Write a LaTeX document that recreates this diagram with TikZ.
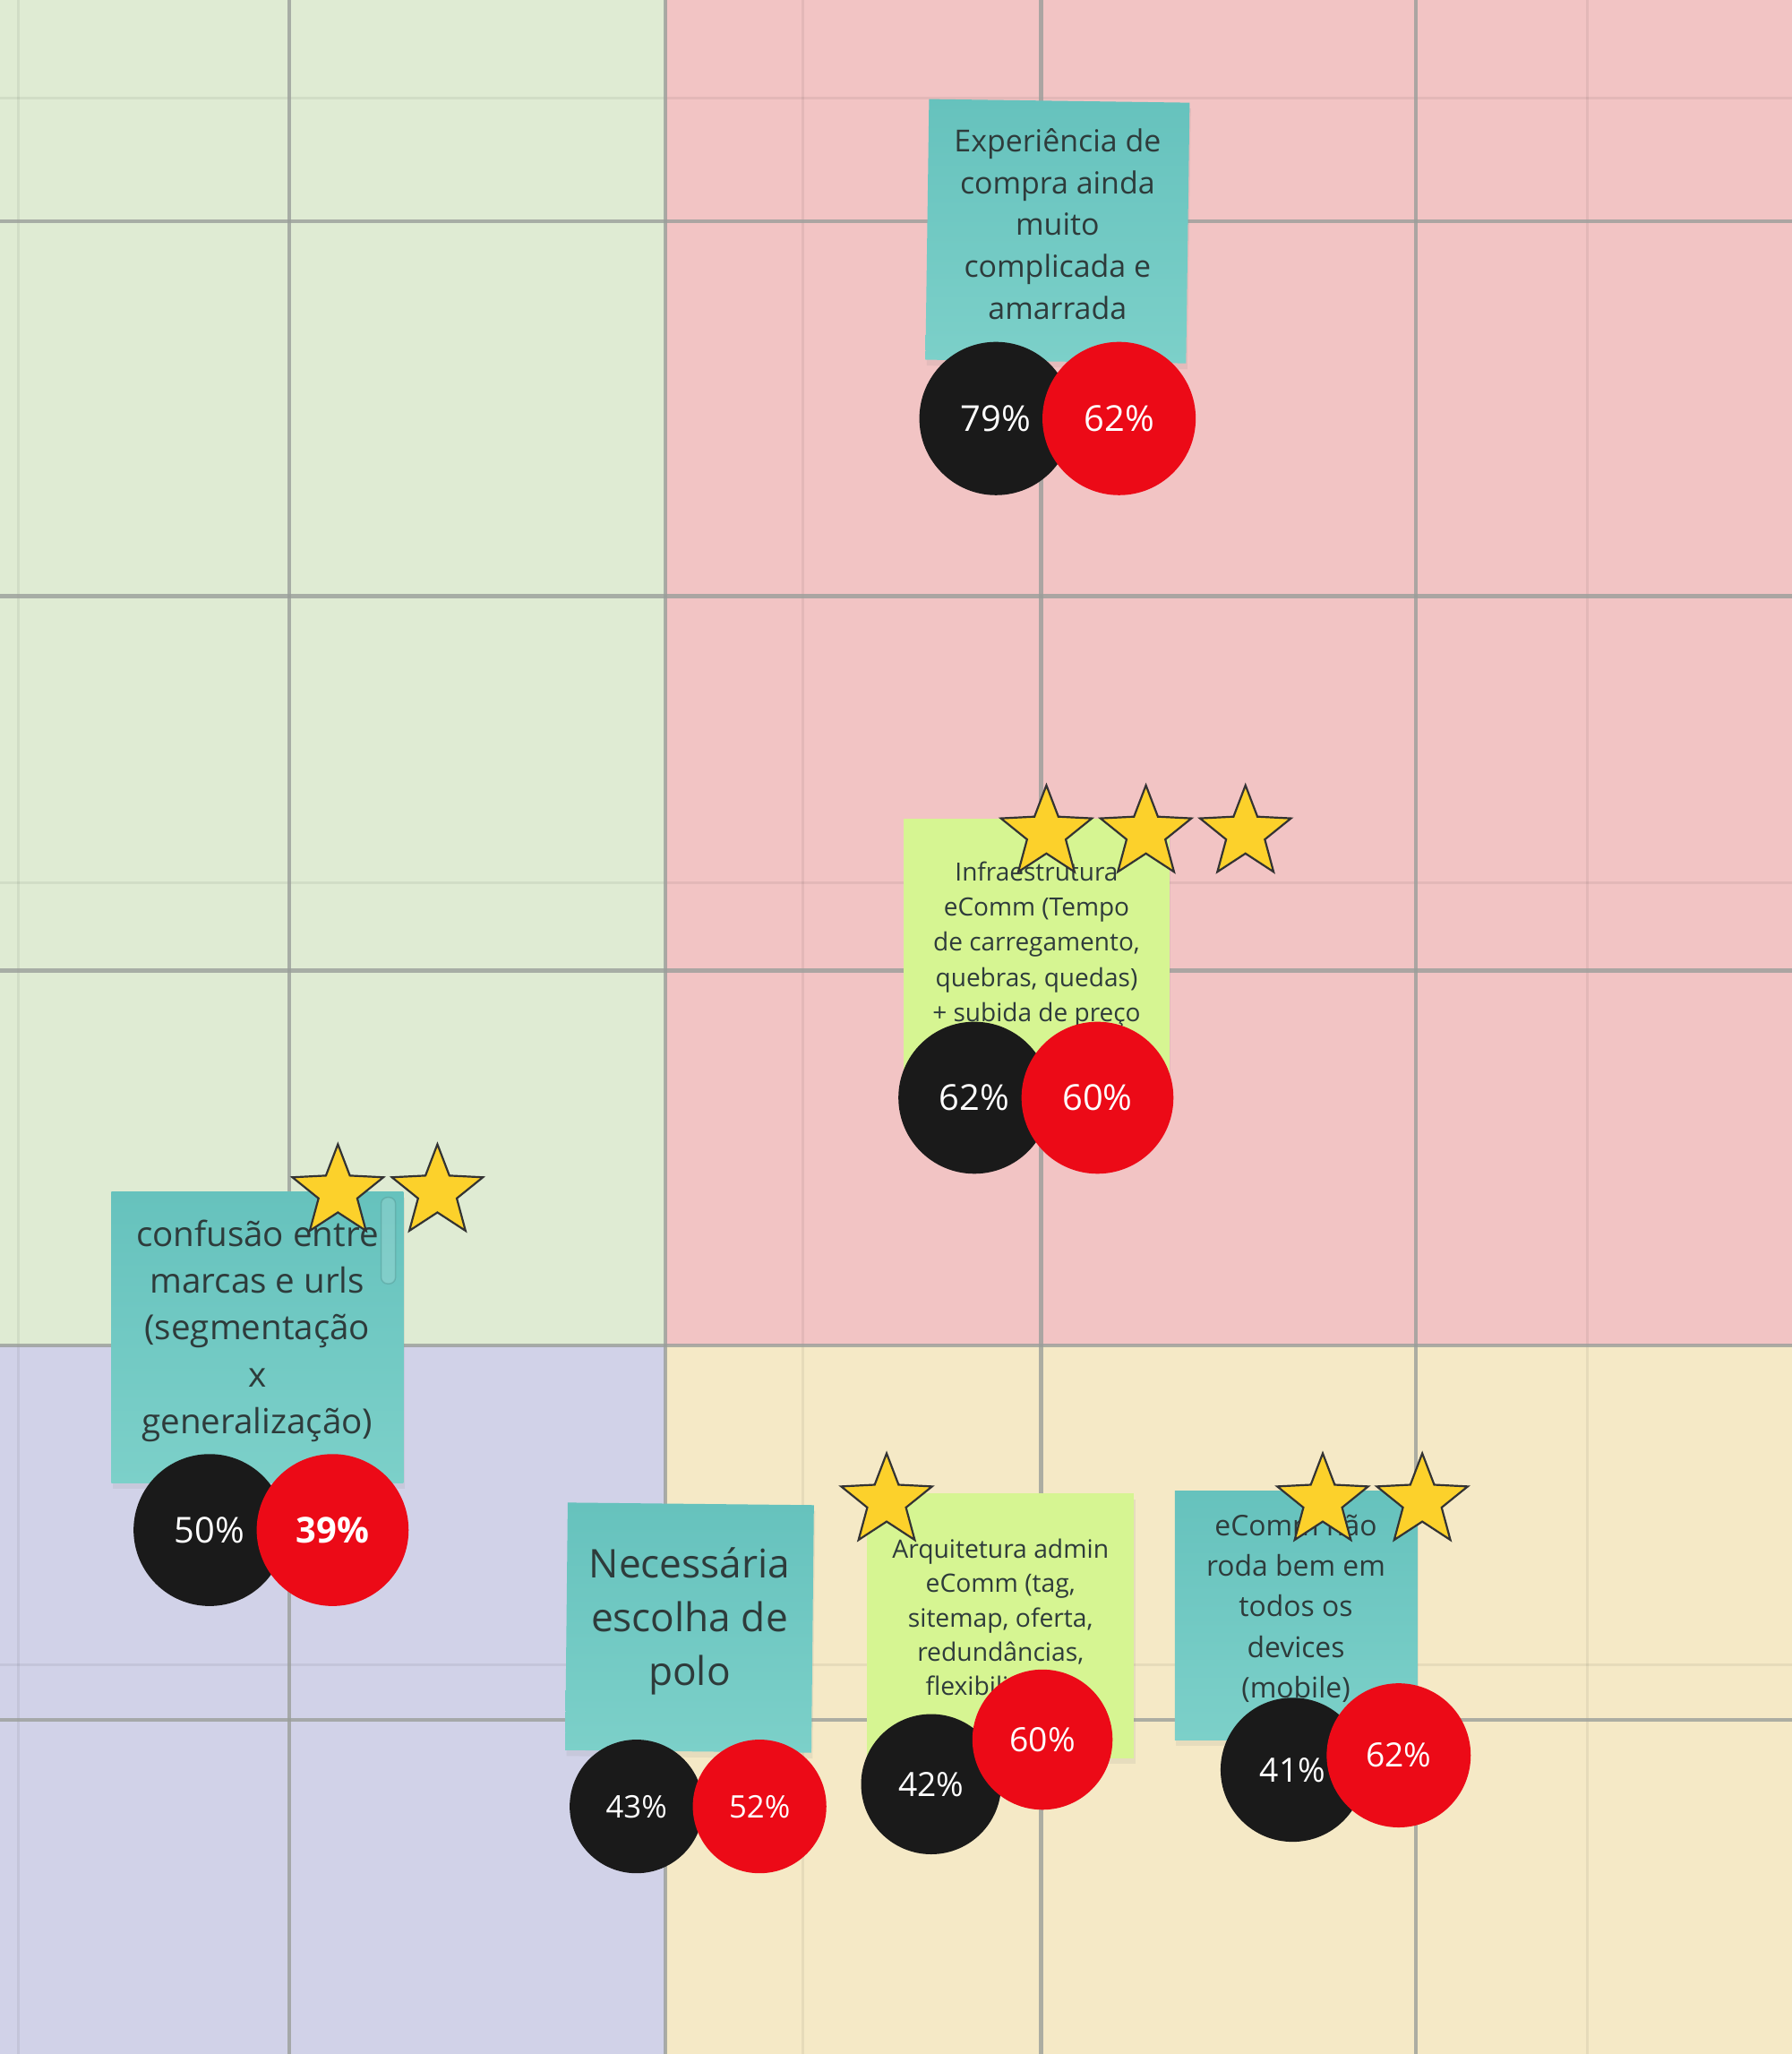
\documentclass[tikz,border=0pt]{standalone}
\usepackage{fontspec}
\setmainfont{Open Sans}
\usepackage{xcolor}
\usetikzlibrary{shapes,positioning,shadows}

\definecolor{quadverde}{HTML}{DFEBD3}
\definecolor{quadrosa}{HTML}{F2C4C4}
\definecolor{quadlilas}{HTML}{D1D2E8}
\definecolor{quadcreme}{HTML}{F5E9C6}
\definecolor{gradecor}{HTML}{9A9E9A}
\definecolor{tealtopo}{HTML}{66C2BD}
\definecolor{tealbase}{HTML}{7CD0C9}
\definecolor{verdepost}{HTML}{D6F592}
\definecolor{textopost}{HTML}{2E3B3B}
\definecolor{estrelacor}{HTML}{FCD12B}
\definecolor{pretovoto}{HTML}{1A1A1A}
\definecolor{vermelhovoto}{HTML}{EC0A17}

\tikzset{
    grade/.style={gradecor, opacity=0.8, line width=0.6mm},
    gradefina/.style={black, opacity=0.06, line width=0.4mm},
    postit/.style={rectangle, inner sep=0pt,
        drop shadow={shadow xshift=0.2mm, shadow yshift=-0.9mm, opacity=0.12}},
    azul/.style={postit, top color=tealtopo, bottom color=tealbase},
    verde/.style={postit, fill=verdepost},
    texto/.style={inner sep=0pt, align=center, text=textopost},
    estrela/.style={star, star points=5, star point ratio=2.35, inner sep=0pt,
        minimum size=14.6mm, fill=estrelacor, draw=black!80, line width=0.3mm},
    bola/.style={circle, inner sep=0pt, text=white},
    preta/.style={bola, fill=pretovoto},
    vermelha/.style={bola, fill=vermelhovoto}
}

\begin{document}
\begin{tikzpicture}[x=0.2mm,y=-0.2mm]
    \useasboundingbox (0,0) rectangle (1368,1568);

    % quadrantes
    \fill[quadverde] (0,0) rectangle (508,1027);
    \fill[quadrosa] (508,0) rectangle (1368,1027);
    \fill[quadlilas] (0,1027) rectangle (508,1568);
    \fill[quadcreme] (508,1027) rectangle (1368,1568);

    % grade
    \foreach \x in {14,613,1212} \draw[gradefina] (\x,0) -- (\x,1568);
    \foreach \y in {75,674,1271} \draw[gradefina] (0,\y) -- (1368,\y);
    \foreach \x in {221,508,795,1081} \draw[grade] (\x,0) -- (\x,1568);
    \foreach \y in {169,455,741,1027,1313} \draw[grade] (0,\y) -- (1368,\y);

    % post-its
    \node[azul, rotate=-0.8, minimum width=39.8mm, minimum height=39.8mm] (experiencia) at (807.5,176.5) {};
    \node[texto, font=\fontsize{13.2}{18.2}\selectfont] (experiencia-txt) at ([yshift=1.1mm]experiencia.center)
        {Experiência de\\compra ainda\\muito\\complicada e\\amarrada};

    \node[verde, minimum width=40.6mm, minimum height=40.6mm] (infra) at (791.5,726.5) {};
    \node[texto, font=\fontsize{10.9}{15.3}\selectfont] (infra-txt) at ([yshift=1.1mm]infra.center)
        {Infraestrutura\\eComm (Tempo\\de carregamento,\\quebras, quedas)\\+ subida de preço};

    \node[azul, minimum width=44.6mm, minimum height=44.4mm] (confusao) at (196.5,1021) {};
    \node[texto, font=\fontsize{15}{20.4}\selectfont] (confusao-txt) at ([yshift=1mm]confusao.center)
        {confusão entre\\marcas e urls\\(segmentação\\x\\generalização)};
    \draw[rounded corners=1mm, fill=white, fill opacity=0.15, draw=tealtopo!70!black,
        draw opacity=0.35, line width=0.2mm] (291,914) rectangle (302,980);

    \node[azul, rotate=-0.6, minimum width=37.6mm, minimum height=37.8mm] (polo) at (526.5,1242.5) {};
    \node[texto, font=\fontsize{17.2}{23.3}\selectfont] (polo-txt) at ([yshift=1mm]polo.center)
        {Necessária\\escolha de\\polo};

    \node[verde, minimum width=40.8mm, minimum height=40.4mm] (arquitetura) at (764,1241) {};
    \node[texto, font=\fontsize{11}{14.8}\selectfont] (arquitetura-txt) at ([yshift=1mm]arquitetura.center)
        {Arquitetura admin\\eComm (tag,\\sitemap, oferta,\\redundâncias,\\flexibilidade)};

    \node[azul, minimum width=37mm, minimum height=38mm] (mobile) at (989.5,1233) {};
    \node[texto, font=\fontsize{12.4}{17.6}\selectfont] (mobile-txt) at ([yshift=1mm]mobile.center)
        {eComm não\\roda bem em\\todos os\\devices\\(mobile)};

    % estrelas
    \foreach \x in {799,875,951} \node[estrela] at (\x,636) {};
    \foreach \x in {258,334} \node[estrela] at (\x,910) {};
    \node[estrela] (estrelaarq) at (677,1146) {};
    \foreach \x in {1010,1086} \node[estrela] at (\x,1146) {};

    % votos
    \node[preta, minimum size=23.4mm, font=\fontsize{15.5}{18}\selectfont] (exp-p) at (760.5,319.5) {79\%};
    \node[vermelha, minimum size=23.4mm, font=\fontsize{15.5}{18}\selectfont] (exp-v) at (854.5,319.5) {62\%};
    \node[preta, minimum size=23.2mm, font=\fontsize{15.5}{18}\selectfont] (infra-p) at (744,838) {62\%};
    \node[vermelha, minimum size=23.2mm, font=\fontsize{15.5}{18}\selectfont] (infra-v) at (838,838) {60\%};
    \node[preta, minimum size=23.2mm, font=\fontsize{15.5}{18}\selectfont] (conf-p) at (160,1168) {50\%};
    \node[vermelha, minimum size=23.2mm, font=\bfseries\fontsize{15.5}{18}\selectfont] (conf-v) at (254,1168) {39\%};
    \node[preta, minimum size=20.4mm, font=\fontsize{13.5}{16}\selectfont] (polo-p) at (486,1379) {43\%};
    \node[vermelha, minimum size=20.4mm, font=\fontsize{13.5}{16}\selectfont] (polo-v) at (580,1379) {52\%};
    \node[preta, minimum size=21.4mm, font=\fontsize{14.5}{17}\selectfont] (arq-p) at (711,1362) {42\%};
    \node[vermelha, minimum size=21.4mm, font=\fontsize{14.5}{17}\selectfont] (arq-v) at (796,1328) {60\%};
    \node[preta, minimum size=22mm, font=\fontsize{14.5}{17}\selectfont] (mob-p) at (987,1351) {41\%};
    \node[vermelha, minimum size=22mm, font=\fontsize{14.5}{17}\selectfont] (mob-v) at (1068,1340) {62\%};
\end{tikzpicture}
\end{document}
